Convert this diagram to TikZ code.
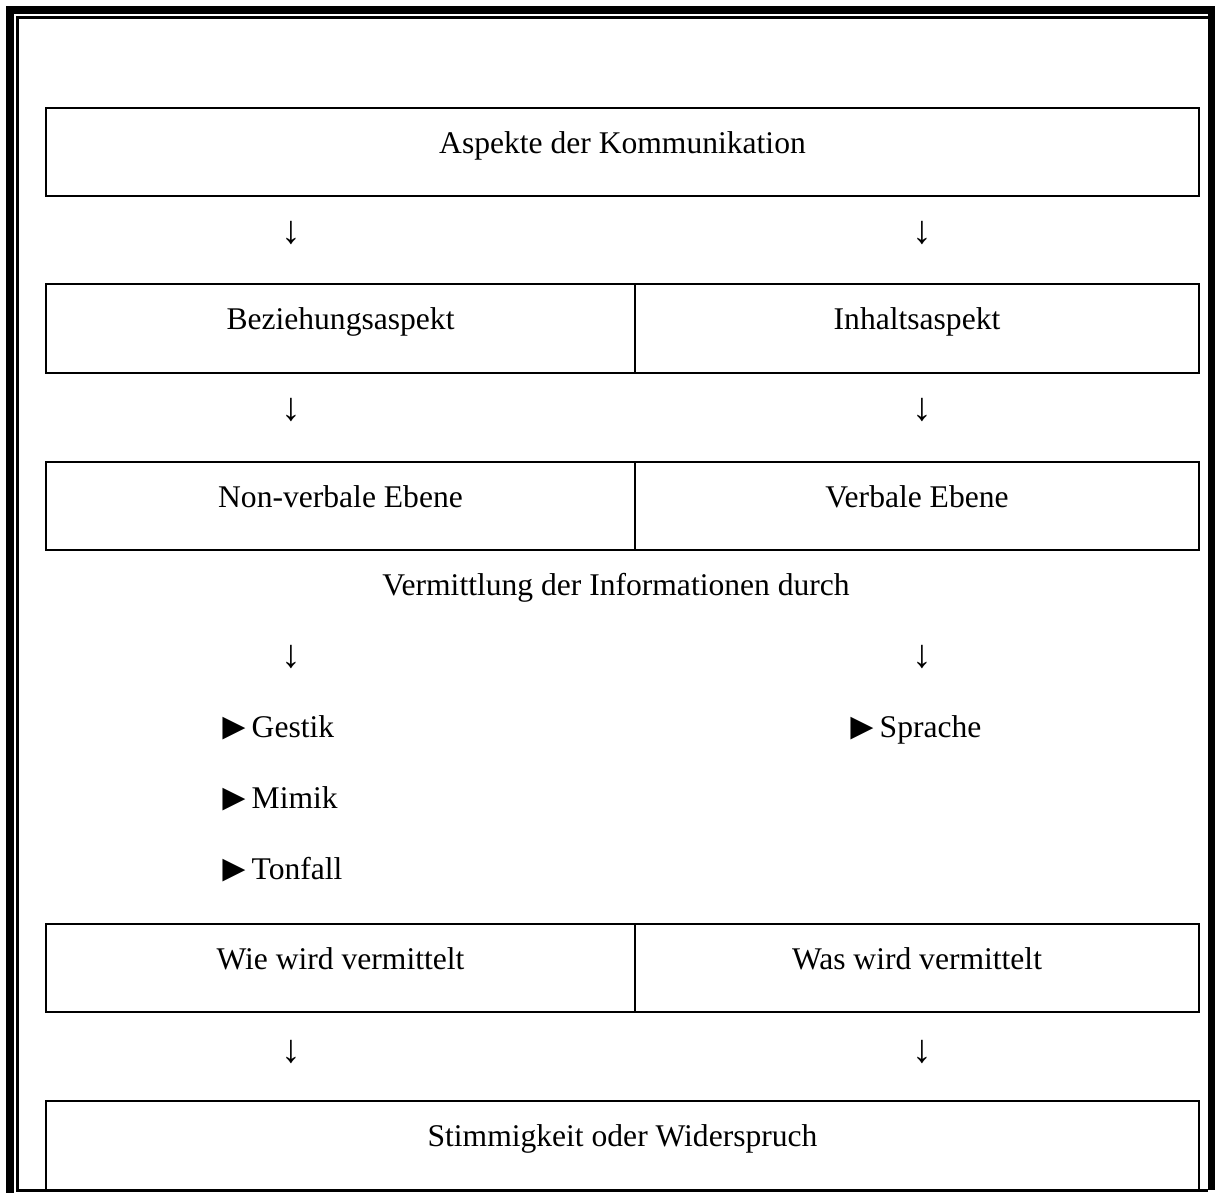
\documentclass[tikz,border=0pt]{standalone}
\usepackage{fontspec}
\setmainfont{Liberation Serif}
\usetikzlibrary{positioning}

\newcommand{\tri}{\raisebox{-0.9pt}{\fontsize{14.5pt}{14.5pt}\selectfont ►}\kern-0.6pt}

\tikzset{
  cell/.style={draw, line width=0.76pt, minimum height=33.6pt, inner sep=0pt,
               text height=8pt, text depth=6.9pt},
  full/.style={cell, minimum width=438.1pt},
  lcell/.style={cell, minimum width=223.8pt},
  rcell/.style={cell, minimum width=214.3pt},
  down/.style={inner sep=0pt, font=\fontsize{15pt}{15pt}\selectfont},
  item/.style={inner sep=0pt, anchor=base west},
  plain/.style={inner sep=0pt, anchor=base},
}

\begin{document}
\begin{tikzpicture}[x=0.38pt, y=-0.38pt, font=\fontsize{12pt}{14pt}\selectfont]
    \useasboundingbox (0,0) rectangle (1215,1193);

    % Rahmen
    \draw[line width=3.04pt] (10,1193) -- (10,10) -- (1211.5,10) -- (1211.5,1190);
    \draw[line width=1.14pt] (1208,17.5) -- (17.5,17.5) -- (17.5,1190.5) -- (1208,1190.5);

    \node[full] (kom) at (622.5,152) {Aspekte der Kommunikation};
    \node[down] (d1l) at (291,233) {↓};
    \node[down] (d1r) at (922,233) {↓};

    \node[lcell] (bez) at (340.5,328.5) {Beziehungsaspekt};
    \node[rcell] (inh) at (917,328.5) {Inhaltsaspekt};
    \node[down] (d2l) at (291,410) {↓};
    \node[down] (d2r) at (922,410) {↓};

    \node[lcell] (nonverb) at (340.5,506) {Non-verbale Ebene};
    \node[rcell] (verb) at (917,506) {Verbale Ebene};
    \node[plain] (verm) at (616,595) {Vermittlung der Informationen durch};
    \node[down] (d3l) at (291,657) {↓};
    \node[down] (d3r) at (922,657) {↓};

    % Mittel
    \node[item] (gestik) at (215,737) {\tri Gestik};
    \node[item] (mimik) [below=27pt of gestik.base west, anchor=base west] {\tri Mimik};
    \node[item] (tonfall) [below=27pt of mimik.base west, anchor=base west] {\tri Tonfall};
    \node[item] (sprache) at (843,737) {\tri Sprache};

    \node[lcell] (wie) at (340.5,968) {Wie wird vermittelt};
    \node[rcell] (was) at (917,968) {Was wird vermittelt};
    \node[down] (d4l) at (291,1052) {↓};
    \node[down] (d4r) at (922,1052) {↓};

    \node[full] (stimm) at (622.5,1145.5) {Stimmigkeit oder Widerspruch};
\end{tikzpicture}
\end{document}
